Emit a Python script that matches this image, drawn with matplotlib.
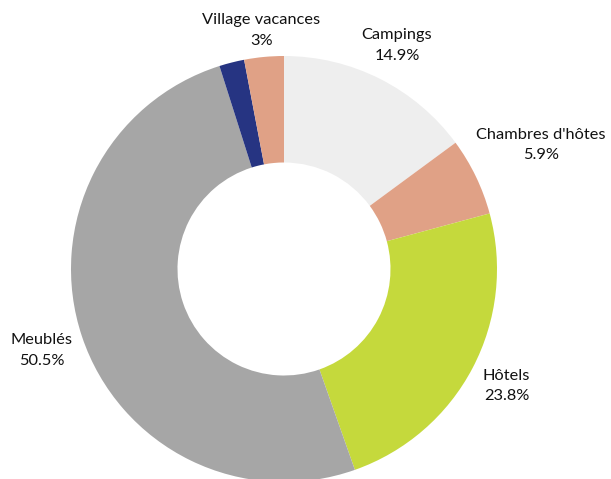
import matplotlib
matplotlib.use("Agg")
import matplotlib.pyplot as plt
import numpy as np

categories = ["Campings", "Chambres d'hôtes", "Hôtels", "Meublés", "", "Village vacances"]
values = [14.9, 5.9, 23.8, 50.5, 1.9, 3.0]
value_labels = ["14.9%", "5.9%", "23.8%", "50.5%", "", "3%"]
colors = ["#eeeeee", "#e0a186", "#c5d93c", "#a6a6a6", "#263482", "#e0a186"]
label_dist = [1.175, 1.34, 1.18, 1.20, 1.17, 1.125]

plt.rcParams['font.family'] = ['Lato', 'DejaVu Sans']

W, H = 611, 479
cx, cy, R = 284, 269, 213
fig = plt.figure(figsize=(W / 100, H / 100), dpi=100)
ax = fig.add_axes([0, 0, 1, 1])
ax.axis('off')

wedges, _ = ax.pie(values, colors=colors, startangle=90, counterclock=False,
                   radius=1.0, wedgeprops=dict(width=0.5, linewidth=0))

total = sum(values)
cum = 0
for cat, v, vl, d in zip(categories, values, value_labels, label_dist):
    mid = 90 - (cum + v / 2) / total * 360
    cum += v
    if not cat:
        continue
    a = np.deg2rad(mid)
    ax.text(d * np.cos(a), d * np.sin(a), f"{cat}\n{vl}", ha='center', va='center',
            fontsize=11.8, color='#111111', linespacing=1.62)

ax.set_xlim(-cx / R, (W - cx) / R)
ax.set_ylim(-(H - cy) / R, cy / R)
ax.set_aspect('auto')
fig.savefig("out.png", dpi=100)
